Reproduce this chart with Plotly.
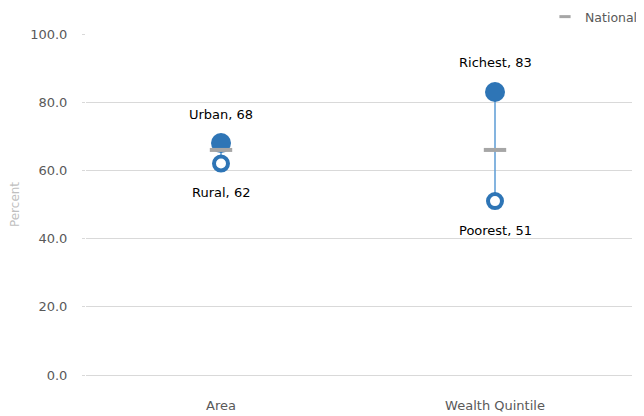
import plotly.graph_objects as go

categories = ["Area", "Wealth Quintile"]
high_labels = ["Urban", "Richest"]
high_values = [68, 83]
low_labels = ["Rural", "Poorest"]
low_values = [62, 51]
national_values = [66, 66]
y_ticks = [0, 20, 40, 60, 80, 100]

BLUE = "#2E75B6"
LIGHT_BLUE = "#5B9BD5"
GRAY = "#A6A6A6"
FONT = "DejaVu Sans"

fig = go.Figure()

# connecting lines
for c, h, l in zip(categories, high_values, low_values):
    fig.add_trace(go.Scatter(x=[c, c], y=[h, l], mode="lines",
                             line=dict(color=LIGHT_BLUE, width=1.5),
                             showlegend=False, hoverinfo="skip"))

fig.add_trace(go.Scatter(x=categories, y=high_values, mode="markers",
                         marker=dict(color=BLUE, size=20, line=dict(width=0)),
                         showlegend=False, name="High"))
fig.add_trace(go.Scatter(x=categories, y=low_values, mode="markers",
                         marker=dict(color="white", size=14, line=dict(color=BLUE, width=4)),
                         showlegend=False, name="Low"))
fig.add_trace(go.Scatter(x=categories, y=national_values, mode="markers",
                         marker=dict(symbol="line-ew", size=16, color=GRAY,
                                     line=dict(color=GRAY, width=4)),
                         name="National", showlegend=False, legendgroup="nat"))
# legend entry for National (small dash)
fig.add_trace(go.Scatter(x=[None], y=[None], mode="markers",
                         marker=dict(symbol="line-ew", size=8, color=GRAY,
                                     line=dict(color=GRAY, width=3)),
                         name="National", showlegend=True, legendgroup="nat"))

for c, lab, v in zip(categories, high_labels, high_values):
    fig.add_annotation(x=c, y=v, text=f"{lab}, {v}", showarrow=False, yshift=29,
                       font=dict(family=FONT, size=13, color="#000000"))
for c, lab, v in zip(categories, low_labels, low_values):
    fig.add_annotation(x=c, y=v, text=f"{lab}, {v}", showarrow=False, yshift=-29,
                       font=dict(family=FONT, size=13, color="#000000"))

L, R, T, B = 78, 20, 26, 49
plot_w = 644 - L - R

fig.update_layout(
    width=644, height=416,
    margin=dict(l=L, r=R, t=T, b=B, autoexpand=False),
    paper_bgcolor="white", plot_bgcolor="white",
    font=dict(family=FONT, size=13, color="#595959"),
    legend=dict(x=(537 - L) / plot_w, xanchor="left", y=1 + 17 / 341, yanchor="middle",
                orientation="h", font=dict(size=12.5, color="#595959"),
                bgcolor="rgba(0,0,0,0)", itemwidth=30),
    xaxis=dict(type="category", categoryarray=categories,
               range=[-0.5 + 2 / 274, 1.5],
               showgrid=False, showline=False, zeroline=False, ticks="",
               ticklabelstandoff=21,
               tickfont=dict(size=13, color="#595959"), fixedrange=True),
    yaxis=dict(range=[0, 100], tickvals=y_ticks, ticktext=[f"{t:.1f}" for t in y_ticks],
               showgrid=True, gridcolor="#D9D9D9", gridwidth=1,
               zeroline=True, zerolinecolor="#D9D9D9", zerolinewidth=1,
               showline=False, ticks="outside", ticklen=3, tickcolor="#D9D9D9",
               ticklabelstandoff=12,
               tickfont=dict(size=13, color="#595959"),
               title=dict(text="Percent", font=dict(size=12, color="#BFBFBF"), standoff=21),
               automargin=False, fixedrange=True),
)

fig.write_html("out.html")
